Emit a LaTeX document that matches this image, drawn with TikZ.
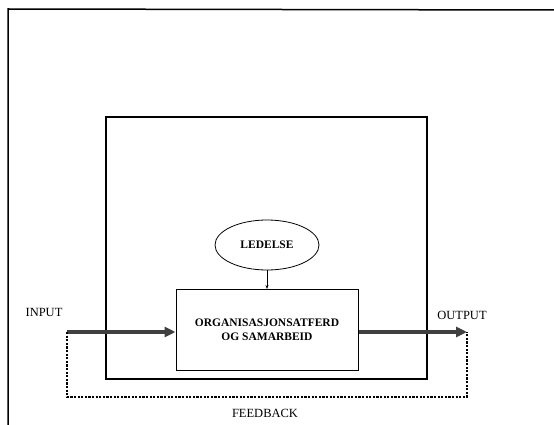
\documentclass[tikz,border=0pt]{standalone}
\usepackage{fontspec}
\setmainfont{Liberation Serif}
\usetikzlibrary{shapes.geometric,arrows.meta}

\tikzset{
  lbl/.style={font=\fontsize{12.5}{13}\selectfont},
  boxtxt/.style={font=\fontsize{11.5}{14}\selectfont\bfseries, align=center},
  flow/.style={line width=3.2pt, draw=black!75, -{Triangle[length=11pt,width=10pt]}},
  feed/.style={line width=2.6pt, dash pattern=on 2.2pt off 1.4pt}
}

\begin{document}
\begin{tikzpicture}[x=1pt,y=-1pt]
   \useasboundingbox (0,0) rectangle (554,425);
   % frame of the page
   \draw[line width=1.5pt] (8,425) -- (8,9) -- (554,10);
   % the organisation
   \draw[line width=1.6pt] (106,117) rectangle (427,379);
   \node[ellipse, draw, line width=0.8pt, minimum width=104pt, minimum height=50pt, boxtxt] (led) at (267,245) {LEDELSE};
   \node[rectangle, draw, line width=1pt, minimum width=182pt, minimum height=81pt, boxtxt] (org) at (267,330) {ORGANISASJONSATFERD\\OG SAMARBEID};
   \draw[-{Stealth[length=4pt,width=3pt]}, line width=0.7pt] (led) -- (org);
   % input and output
   \coordinate (in) at (67,332);
   \coordinate (out) at (467,332);
   \draw[flow] (in) -- (org.west |- in);
   \draw[flow] (org.east |- out) -- (out);
   \draw[feed] (in) -- (67,397) -- (467,397) -- (out);
   \draw (44,312) node[lbl] {INPUT};
   \draw (462,315) node[lbl] {OUTPUT};
   \draw (265,413) node[lbl] {FEEDBACK};
  \end{tikzpicture}
\end{document}
